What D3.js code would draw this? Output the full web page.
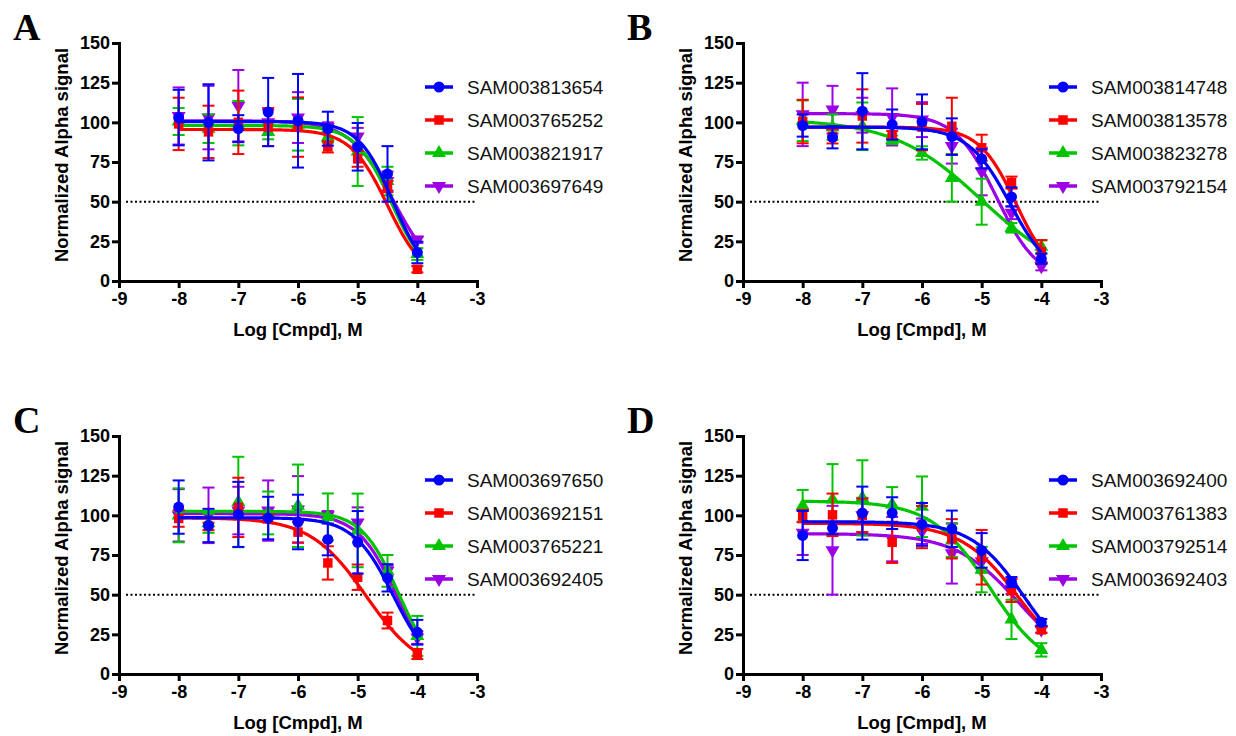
<!DOCTYPE html>
<html>
<head>
<meta charset="utf-8">
<script src="https://cdn.jsdelivr.net/npm/d3@7"></script>
<style>
  body { margin: 0; background: #fff; }
  svg { display: block; }
</style>
</head>
<body>
<div id="container"></div>
<script>
// Dose points (log M), shared by every panel
const logDose = [-8, -7.5, -7, -6.5, -6, -5.5, -5, -4.5, -4];
const xTicks = [-9, -8, -7, -6, -5, -4, -3];
const yTicks = [0, 25, 50, 75, 100, 125, 150];
const panelLetters = ['A', 'B', 'C', 'D'];

// Panel A
const namesA = ['SAM003813654', 'SAM003765252', 'SAM003821917', 'SAM003697649'];
const meansA = [
  [103, 100, 96, 106.5, 101, 96, 84.6, 67.5, 18],
  [99, 94, 100, 97, 97, 84.5, 77, 59.5, 7.4],
  [100.5, 96, 99.5, 94, 98.5, 90.7, 81.6, 63, 17],
  [104, 103, 110.5, 100, 103, 97, 91, 63, 26]
];
const errorsA = [
  [17.5, 24, 8.5, 21.5, 29.5, 10.7, 15, 17.5, 6.8],
  [16.5, 16.5, 20, 12, 18.7, 3.5, 5, 3.5, 2],
  [8.5, 9, 14, 4.7, 16.3, 3.5, 21.7, 9, 3.7],
  [18, 20, 22.5, 8, 16, 3, 5.5, 6, 2]
];
// fit: [top, logIC50, hill slope], bottom = 0
const fitsA = [[100.5, -4.41, -1.5], [95.5, -4.5, -1.4], [98, -4.43, -1.45], [101, -4.40, -1.2]];

// Panel B
const namesB = ['SAM003814748', 'SAM003813578', 'SAM003823278', 'SAM003792154'];
const meansB = [
  [98, 90.6, 107, 98.6, 100.3, 91, 77, 53, 14],
  [100.5, 91.2, 104, 92, 97, 97.5, 84, 62, 18.5],
  [101, 97, 97.5, 89, 80.7, 65, 50, 33.5, 21.6],
  [105, 108, 104.5, 103.4, 101.7, 85, 69, 43, 9.4]
];
const errorsB = [
  [7, 7, 24, 9.5, 17.3, 11.5, 6, 6, 3.2],
  [13.7, 4.5, 16.8, 2.5, 14.6, 18, 8.2, 3.8, 7.3],
  [12.8, 8, 15, 2.7, 4.2, 15, 14.5, 3, 4],
  [20, 15, 11, 18, 11, 11, 15, 4, 2.7]
];
const fitsB = [[97, -4.52, -1.23], [97, -4.42, -1.4], [102, -5.0, -0.585], [105.5, -4.75, -1.25]];

// Panel C
const namesC = ['SAM003697650', 'SAM003692151', 'SAM003765221', 'SAM003692405'];
const meansC = [
  [105.2, 93.6, 100.6, 98.3, 95.8, 84.8, 83, 60.6, 26.3],
  [98, 93, 105, 98, 89.4, 70, 61, 33.7, 12.6],
  [100, 95, 108.4, 101.5, 106, 99, 90.5, 65, 24],
  [100, 100, 103, 103, 103.7, 100, 95.5, 65, 23]
];
const errorsC = [
  [16.8, 10.5, 20.5, 13.4, 17.2, 10, 19.7, 8.6, 7.8],
  [5.2, 2.3, 18.7, 2.5, 6.5, 10.5, 8, 5, 3.2],
  [17, 6, 28.5, 13.5, 26, 14.8, 23.2, 10, 12.6],
  [16.5, 17.5, 15, 19, 21, 2.7, 9.5, 3.2, 4]
];
const fitsC = [[98.5, -4.4, -1.3], [98.5, -4.86, -0.93], [102.5, -4.32, -1.41], [101, -4.36, -1.35]];

// Panel D
const namesD = ['SAM003692400', 'SAM003761383', 'SAM003792514', 'SAM003692403'];
const meansD = [
  [87.3, 92, 101.4, 101.4, 94.3, 91.5, 77.9, 57.9, 32.6],
  [99.5, 100.3, 100, 83, 92.6, 85.2, 73.6, 52.6, 27.8],
  [106, 110, 111, 106.8, 105.4, 84.2, 65.8, 34.4, 15.2],
  [89, 78, 100, 85, 90, 76, 71, 53.6, 28]
];
const errorsD = [
  [15.5, 3.9, 16.7, 10, 13.5, 11.5, 10.9, 3.2, 2.1],
  [3.9, 13.4, 10.5, 13, 13.3, 12.4, 17.2, 7.2, 1.8],
  [10, 22.3, 23.7, 11, 19.1, 10.5, 14.3, 12.4, 4.2],
  [14, 28, 11, 14, 8, 19, 7, 3.2, 2]
];
const fitsD = [[96, -4.275, -0.97], [95, -4.365, -0.89], [109, -4.865, -0.89], [88.5, -4.36, -0.81]];

const seriesColors = ['#0000ff', '#ff0000', '#00c400', '#9c00e6'];

const panels = [
  { names: namesA, means: meansA, errors: errorsA, fits: fitsA },
  { names: namesB, means: meansB, errors: errorsB, fits: fitsB },
  { names: namesC, means: meansC, errors: errorsC, fits: fitsC },
  { names: namesD, means: meansD, errors: errorsD, fits: fitsD }
];
const origins = [[119, 43], [743, 43], [119, 436], [743, 436]];

const width = 358, height = 238;
const sansFont = '"Liberation Sans", Arial, sans-serif';

const svg = d3.select('#container').append('svg')
  .attr('width', 1236)
  .attr('height', 736);

const xScale = d3.scaleLinear().domain([-9, -3]).range([0, width]);
const yScale = d3.scaleLinear().domain([0, 150]).range([height, 0]);

// marker symbols per series: circle, square, triangle, inverted triangle
const symbols = [
  d3.symbol().type(d3.symbolCircle).size(95)(),
  d3.symbol().type(d3.symbolSquare).size(90)(),
  d3.symbol().type(d3.symbolTriangle).size(85)(),
  d3.symbol().type(d3.symbolTriangle).size(85)()
];
const symbolRotate = [0, 0, 0, 180];

const fitLine = d3.line()
  .x(d => xScale(d[0]))
  .y(d => yScale(d[1]))
  .curve(d3.curveLinear);

function fitCurve(f) {
  const pts = [];
  for (let lx = -8; lx <= -3.999; lx += 0.02) {
    pts.push([lx, f[0] / (1 + Math.pow(10, (f[1] - lx) * f[2]))]);
  }
  return pts;
}

panels.forEach((p, k) => {
  const g = svg.append('g')
    .attr('transform', `translate(${origins[k][0]},${origins[k][1]})`);

  // panel letter
  g.append('text')
    .attr('x', k % 2 === 0 ? -106 : -116)
    .attr('y', -3)
    .attr('font-family', '"Liberation Serif", "Times New Roman", serif')
    .attr('font-weight', 'bold')
    .attr('font-size', 38)
    .text(panelLetters[k]);

  // 50% line
  g.append('line')
    .attr('x1', 7).attr('x2', width)
    .attr('y1', yScale(50)).attr('y2', yScale(50))
    .attr('stroke', '#000')
    .attr('stroke-width', 2)
    .attr('stroke-dasharray', '2,2.5');

  // series, drawn last-to-first so blue sits on top
  d3.range(3, -1, -1).forEach(i => {
    const col = seriesColors[i];
    const s = g.append('g');
    const rows = logDose.map((xv, j) => ({ x: xv, m: p.means[i][j], e: p.errors[i][j] }));

    s.selectAll('line.bar').data(rows).enter().append('line')
      .attr('x1', d => xScale(d.x)).attr('x2', d => xScale(d.x))
      .attr('y1', d => yScale(d.m + d.e)).attr('y2', d => yScale(d.m - d.e))
      .attr('stroke', col).attr('stroke-width', 2);
    s.selectAll('line.capT').data(rows).enter().append('line')
      .attr('x1', d => xScale(d.x) - 6).attr('x2', d => xScale(d.x) + 6)
      .attr('y1', d => yScale(d.m + d.e)).attr('y2', d => yScale(d.m + d.e))
      .attr('stroke', col).attr('stroke-width', 2);
    s.selectAll('line.capB').data(rows).enter().append('line')
      .attr('x1', d => xScale(d.x) - 6).attr('x2', d => xScale(d.x) + 6)
      .attr('y1', d => yScale(d.m - d.e)).attr('y2', d => yScale(d.m - d.e))
      .attr('stroke', col).attr('stroke-width', 2);

    s.append('path')
      .attr('d', fitLine(fitCurve(p.fits[i])))
      .attr('fill', 'none')
      .attr('stroke', col)
      .attr('stroke-width', 3.2);

    s.selectAll('path.pt').data(rows).enter().append('path')
      .attr('d', symbols[i])
      .attr('transform', d => `translate(${xScale(d.x)},${yScale(d.m)}) rotate(${symbolRotate[i]})`)
      .attr('fill', col);
  });

  // axes
  const xAxis = g.append('g')
    .attr('transform', `translate(0,${height})`)
    .call(d3.axisBottom(xScale).tickValues(xTicks).tickSize(7).tickSizeOuter(0).tickPadding(4).tickFormat(d => String(d)));
  const yAxis = g.append('g')
    .call(d3.axisLeft(yScale).tickValues(yTicks).tickSize(7).tickSizeOuter(0).tickPadding(2).tickFormat(d => String(d)));

  [xAxis, yAxis].forEach(a => {
    a.select('.domain').attr('stroke-width', 3).attr('stroke-linecap', 'square');
    a.selectAll('.tick line').attr('stroke-width', 3);
    a.selectAll('.tick text')
      .attr('font-family', sansFont)
      .attr('font-weight', 'bold')
      .attr('font-size', 18)
      .attr('fill', '#000');
  });

  // axis titles
  g.append('text')
    .attr('x', width / 2)
    .attr('y', height + 55)
    .attr('text-anchor', 'middle')
    .attr('font-family', sansFont)
    .attr('font-weight', 'bold')
    .attr('font-size', 18.5)
    .text('Log [Cmpd], M');

  g.append('text')
    .attr('transform', `translate(-58,${height / 2 - 7}) rotate(-90)`)
    .attr('text-anchor', 'middle')
    .attr('dominant-baseline', 'central')
    .attr('font-family', sansFont)
    .attr('font-weight', 'bold')
    .attr('font-size', 18.5)
    .text('Normalized Alpha signal');

  // legend
  const leg = g.append('g').attr('transform', 'translate(306,44)');
  p.names.forEach((name, i) => {
    const row = leg.append('g').attr('transform', `translate(0,${i * 33})`);
    row.append('line')
      .attr('x1', 0).attr('x2', 28)
      .attr('stroke', seriesColors[i])
      .attr('stroke-width', 3.5);
    row.append('path')
      .attr('d', symbols[i])
      .attr('transform', `translate(14,0) rotate(${symbolRotate[i]})`)
      .attr('fill', seriesColors[i]);
    row.append('text')
      .attr('x', 42)
      .attr('dominant-baseline', 'central')
      .attr('font-family', sansFont)
      .attr('font-size', 19)
      .attr('fill', '#111')
      .text(name);
  });
});
</script>
</body>
</html>
